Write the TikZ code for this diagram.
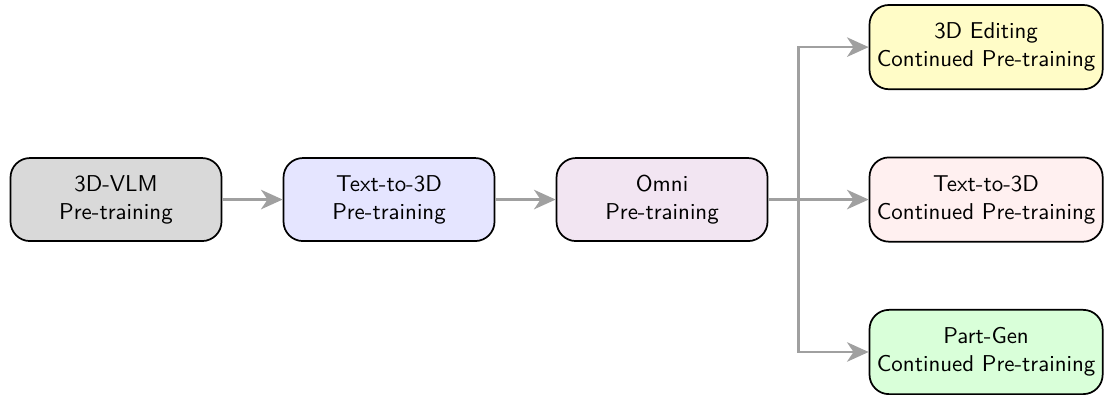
\documentclass[tikz,border=0pt]{standalone}
\usepackage{tikz}
\usetikzlibrary{arrows.meta, positioning}

\begin{document}
\begin{tikzpicture}[node distance={9.8mm}, font=\sffamily\fontsize{10.6}{13}\selectfont,
    main/.style = {draw, thick, rounded corners=9pt, align=center, minimum width=34.3mm, minimum height=13.5mm},
    cont/.style = {main, minimum width=37.9mm, minimum height=13.7mm},
    link/.style = {draw={rgb,255:red,160;green,160;blue,160}, line width=1.2pt, -{Stealth[length=10pt,width=9pt,inset=3pt]}}]
            \useasboundingbox (-1.886,-3.179) rectangle (16.11,3.244);

            \node[main, fill=gray!30] (VLM) {3D-VLM\\Pre-training};
            \node[main, fill=blue!10] (TTO3D) [right=of VLM] {Text-to-3D\\Pre-training};
            \node[main, fill=violet!10] (OMNI) [right=of TTO3D] {Omni\\Pre-training};

            \draw[link] (VLM) -- (TTO3D);
            \draw[link] (TTO3D) -- (OMNI);

            \node[cont, fill=red!6] (TTO3DC) [right=16.3mm of OMNI] {Text-to-3D\\Continued Pre-training};
            \node[cont, fill=yellow!22] (EDIT) [above=10.8mm of TTO3DC] {3D Editing\\Continued Pre-training};
            \node[cont, fill=green!15] (PARTGEN) [below=10.8mm of TTO3DC] {Part-Gen\\Continued Pre-training};

            \coordinate (split) at ([xshift=4.9mm]OMNI.east);

            \draw[link, -] (OMNI) -- (split);
            \draw[link] (split) |- (EDIT);
            \draw[link] (split) -- (TTO3DC);
            \draw[link] (split) |- (PARTGEN);
        \end{tikzpicture}
\end{document}
